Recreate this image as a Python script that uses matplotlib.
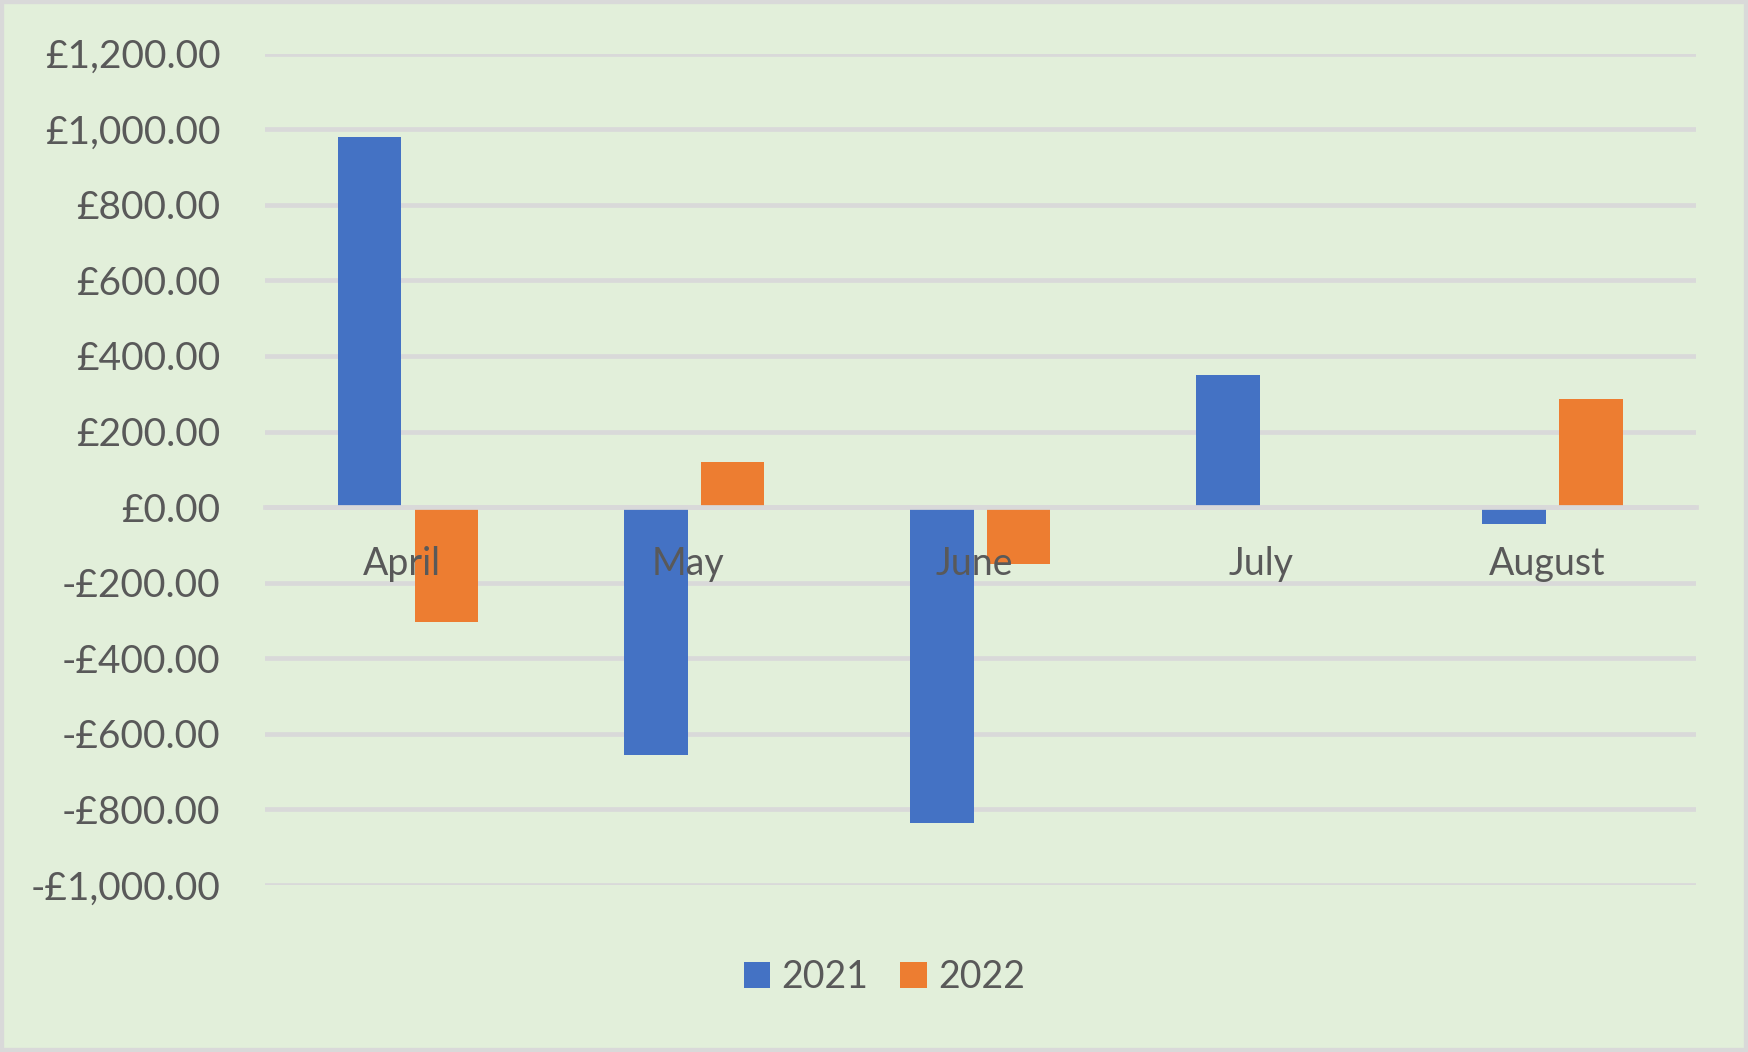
import numpy as np
import matplotlib
matplotlib.use("Agg")
import matplotlib.pyplot as plt
from matplotlib.patches import Rectangle
from matplotlib.ticker import FuncFormatter

months = ["April", "May", "June", "July", "August"]
series_names = ["2021", "2022"]
vals_2021 = [980, -655, -835, 350, -45]
vals_2022 = [-305, 120, -150, 0, 285]

BG = "#E2EFDA"
GRID = "#D9D9D9"
TXT = "#595959"
COLORS = ["#4472C4", "#ED7D31"]

plt.rcParams["font.family"] = ["Lato", "DejaVu Sans"]


def money(v, pos=None):
    s = f"£{abs(v):,.2f}"
    return "-" + s if v < 0 else s


def main():
    fig = plt.figure(figsize=(17.48, 10.52), dpi=100, facecolor=BG)
    ax = fig.add_axes([0.1516, 0.1587, 0.8184, 0.7903])
    ax.set_facecolor(BG)

    x = np.arange(len(months))
    w = 0.222
    off = 0.134
    ax.bar(x - off, vals_2021, w, color=COLORS[0], label=series_names[0], zorder=2)
    ax.bar(x + off, vals_2022, w, color=COLORS[1], label=series_names[1], zorder=2)

    ax.set_xlim(-0.5, len(months) - 0.5)
    ax.set_ylim(-1000, 1200)
    ax.set_yticks(np.arange(-1000, 1201, 200))
    ax.yaxis.set_major_formatter(FuncFormatter(money))
    ax.grid(axis="y", color=GRID, linewidth=3.4, zorder=1)
    ax.set_axisbelow(True)

    for side in ["top", "right", "left"]:
        ax.spines[side].set_visible(False)
    ax.spines["bottom"].set_position(("data", 0))
    ax.spines["bottom"].set_color(GRID)
    ax.spines["bottom"].set_linewidth(3.4)
    ax.spines["bottom"].set_zorder(3)
    # month labels sit on top of the bars, like Excel
    ax.xaxis.set_zorder(5)

    ax.set_xticks(x - 0.02)
    ax.set_xticklabels(months)
    ax.tick_params(axis="x", length=0, pad=28, labelsize=27, labelcolor=TXT)
    ax.tick_params(axis="y", length=0, pad=32, labelsize=28, labelcolor=TXT)

    fig.legend(loc="center", bbox_to_anchor=(0.506, 0.071), ncol=2, frameon=False,
               fontsize=27, labelcolor=TXT, handlelength=0.7, handleheight=0.7,
               handletextpad=0.3, columnspacing=0.85)

    fig.patches.append(Rectangle((0, 0), 1, 1, transform=fig.transFigure,
                                 fill=False, edgecolor=GRID, linewidth=6))

    fig.savefig("out.png", dpi=100, facecolor=BG)


if __name__ == "__main__":
    main()
